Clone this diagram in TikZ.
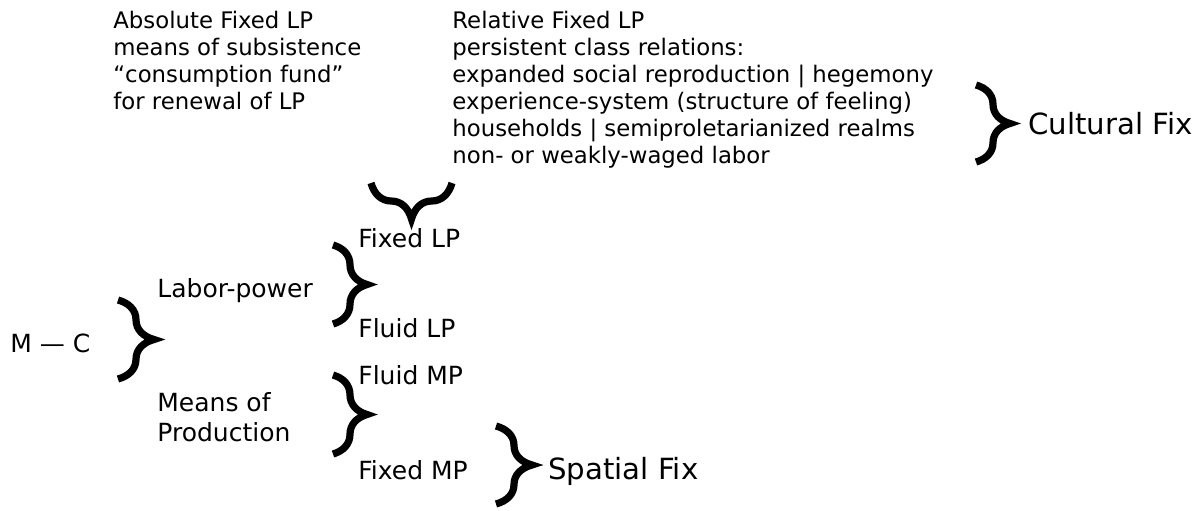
\documentclass[tikz,border=0pt]{standalone}
\usepackage{fontspec}
\setmainfont{DejaVu Sans}
\usetikzlibrary{positioning, decorations.pathreplacing}
\tikzset{
	bigbrace/.style={line width=3.6pt, decorate, decoration={brace, amplitude=#1}},
	bigbrace/.default=18pt,
	item/.style={anchor=base west, inner sep=0pt, font=\fontsize{12.5}{15}\selectfont},
	fixlabel/.style={anchor=base west, inner sep=0pt, font=\fontsize{14.6}{18}\selectfont},
	note/.style={anchor=base west, inner sep=0pt, font=\fontsize{11.4}{13.5}\selectfont},
}

\begin{document}
\begin{tikzpicture}[x=0.5pt, y=-0.5pt]
			\useasboundingbox (0,0) rectangle (1195,510);
			% top notes
			\foreach \txt [count=\i] in {Absolute Fixed LP, means of subsistence, ``consumption fund'', for renewal of LP}
				\node[note] (abs-\i) at (113,1.5+27*\i) {\txt};
			\foreach \txt [count=\i] in {Relative Fixed LP, persistent class relations:, expanded social reproduction | hegemony, experience-system (structure of feeling), households | semiproletarianized realms, non- or weakly-waged labor}
				\node[note] (rel-\i) at (452,1.5+27*\i) {\txt};
			\node[fixlabel] (cultural) at (1028,134) {Cultural Fix};
			% circuit
			\node[item] (mc) at (10,352) {M --- C};
			\node[item] (labor) at (157,297) {Labor-power};
			\node[item] (means) at (157,411) {Means of};
			\node[item] (prod) at (157,441) {Production};
			\node[item] (fixedlp) at (358,247) {Fixed LP};
			\node[item] (fluidlp) at (358,337) {Fluid LP};
			\node[item] (fluidmp) at (358,384) {Fluid MP};
			\node[item] (fixedmp) at (358,479) {Fixed MP};
			\node[fixlabel] (spatial) at (548,479) {Spatial Fix};
			% brace ends
			\coordinate (mc-top) at (118,300);
			\coordinate (mc-bot) at (118,379);
			\coordinate (lp-top) at (333,245);
			\coordinate (lp-bot) at (333,324);
			\coordinate (mp-top) at (333,375);
			\coordinate (mp-bot) at (333,454);
			\coordinate (sp-top) at (496,426);
			\coordinate (sp-bot) at (496,504);
			\coordinate (cf-top) at (976,85);
			\coordinate (cf-bot) at (976,162);
			\coordinate (fx-right) at (452,183);
			\coordinate (fx-left) at (371,183);
			\draw[bigbrace] (mc-top) -- (mc-bot);
			\draw[bigbrace=17pt] (lp-top) -- (lp-bot);
			\draw[bigbrace=17pt] (mp-top) -- (mp-bot);
			\draw[bigbrace] (sp-top) -- (sp-bot);
			\draw[bigbrace=17pt] (cf-top) -- (cf-bot);
			\draw[bigbrace] (fx-right) -- (fx-left);
		\end{tikzpicture}
\end{document}
